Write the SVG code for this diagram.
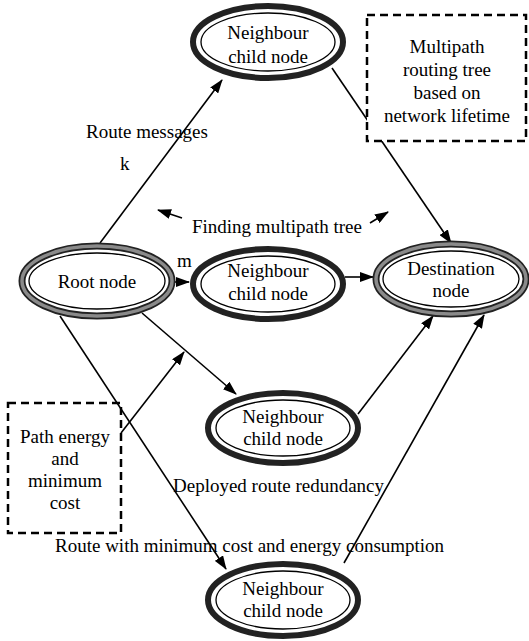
<svg xmlns="http://www.w3.org/2000/svg" width="529" height="641" viewBox="0 0 529 641">
<style>
text{font-family:"Liberation Serif","Times New Roman",serif;font-size:19px;fill:#000}
.c{text-anchor:middle}
.ring{fill:#fff;stroke:#222;stroke-width:6}
.gring{fill:#fff;stroke:#222;stroke-width:7}
.gmid{fill:none;stroke:#8a8a8a;stroke-width:3.5}
.inner{fill:none;stroke:#000;stroke-width:1.3}
.box{fill:#fff;stroke:#000;stroke-width:2.5;stroke-dasharray:8 5}
.ln{fill:none;stroke:#000;stroke-width:1.6}
</style>
<defs>
<marker id="ah" markerUnits="userSpaceOnUse" markerWidth="14" markerHeight="10" refX="13" refY="5" orient="auto">
<path d="M0,0 L14,5 L0,10 Z" fill="#000"/>
</marker>
</defs>
<g id="box-path-energy">
<rect class="box" x="8" y="403" width="113" height="130"/>
<text class="c" x="65" y="443">Path energy</text>
<text class="c" x="65" y="465">and</text>
<text class="c" x="65" y="487">minimum</text>
<text class="c" x="65" y="509">cost</text>
</g>
<g id="connectors">
<line class="ln" x1="100" y1="243" x2="222" y2="80" marker-end="url(#ah)"/>
<line class="ln" x1="174" y1="282" x2="189" y2="282" marker-end="url(#ah)"/>
<line class="ln" x1="345" y1="277" x2="373" y2="277" marker-end="url(#ah)"/>
<line class="ln" x1="332" y1="68" x2="451" y2="243" marker-end="url(#ah)"/>
<line class="ln" x1="142" y1="313" x2="236" y2="394" marker-end="url(#ah)"/>
<line class="ln" x1="358" y1="414" x2="433" y2="316" marker-end="url(#ah)"/>
<line class="ln" x1="60" y1="316" x2="226" y2="569" marker-end="url(#ah)"/>
<line class="ln" x1="344" y1="563" x2="484" y2="315" marker-end="url(#ah)"/>
<line class="ln" x1="121" y1="433" x2="184" y2="352" marker-end="url(#ah)"/>
<line class="ln" x1="182" y1="218" x2="158" y2="210" marker-end="url(#ah)"/>
<line class="ln" x1="370" y1="223" x2="388" y2="212" marker-end="url(#ah)"/>
</g>
<g id="labels">
<text x="86" y="138">Route messages</text>
<text x="120" y="170">k</text>
<text x="177" y="267">m</text>
<text x="192" y="233">Finding multipath tree</text>
<text x="173" y="492">Deployed route redundancy</text>
<text x="55" y="552">Route with minimum cost and energy consumption</text>
</g>
<g id="box-multipath">
<rect class="box" x="367" y="15" width="159" height="126"/>
<text class="c" x="447" y="53">Multipath</text>
<text class="c" x="447" y="76">routing tree</text>
<text class="c" x="447" y="99">based on</text>
<text class="c" x="447" y="122">network lifetime</text>
</g>
<g id="node-top">
<ellipse class="ring" cx="268" cy="42" rx="75" ry="36"/>
<ellipse class="inner" cx="268" cy="42" rx="67" ry="29"/>
<text class="c" x="268" y="39">Neighbour</text>
<text class="c" x="268" y="63">child node</text>
</g>
<g id="node-root">
<ellipse class="gring" cx="97" cy="281" rx="75" ry="35"/>
<ellipse class="gmid" cx="97" cy="281" rx="75" ry="35"/>
<ellipse class="inner" cx="97" cy="281" rx="68" ry="28"/>
<text class="c" x="97" y="288">Root node</text>
</g>
<g id="node-middle">
<ellipse class="ring" cx="268" cy="284" rx="75" ry="35"/>
<ellipse class="inner" cx="268" cy="284" rx="67" ry="28"/>
<text class="c" x="268" y="277">Neighbour</text>
<text class="c" x="268" y="300">child node</text>
</g>
<g id="node-destination">
<ellipse class="gring" cx="451" cy="279" rx="75" ry="35"/>
<ellipse class="gmid" cx="451" cy="279" rx="75" ry="35"/>
<ellipse class="inner" cx="451" cy="279" rx="68" ry="28"/>
<text class="c" x="451" y="275">Destination</text>
<text class="c" x="451" y="297">node</text>
</g>
<g id="node-lower">
<ellipse class="ring" cx="283" cy="428" rx="75" ry="35"/>
<ellipse class="inner" cx="283" cy="428" rx="67" ry="28"/>
<text class="c" x="283" y="423">Neighbour</text>
<text class="c" x="283" y="445">child node</text>
</g>
<g id="node-bottom">
<ellipse class="ring" cx="283" cy="600" rx="75" ry="36"/>
<ellipse class="inner" cx="283" cy="600" rx="67" ry="29"/>
<text class="c" x="283" y="595">Neighbour</text>
<text class="c" x="283" y="617">child node</text>
</g>
</svg>
